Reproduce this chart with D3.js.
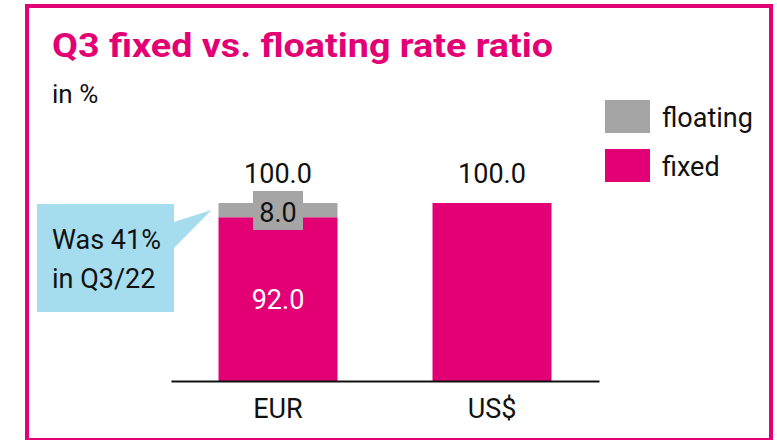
<!DOCTYPE html>
<html>
<head>
<meta charset="utf-8">
<script src="https://cdn.jsdelivr.net/npm/d3@7"></script>
<style>
  body { margin: 0; background: #fff; }
  svg { display: block; font-family: Roboto, "Open Sans", sans-serif; }
</style>
</head>
<body>
<div id="chart"></div>
<script>
// data
const categories = ["EUR", "US$"];
const fixedValues = [92.0, 100.0];
const floatingValues = [8.0, 0.0];
const totalValues = [100.0, 100.0];
const legendLabels = ["floating", "fixed"];
const calloutLines = ["Was 41%", "in Q3/22"];

const magenta = "#e20074",
  grey = "#a5a5a5",
  calloutBlue = "#a5ddee";

const width = 777, height = 440;

const svg = d3.select("#chart")
  .append("svg")
  .attr("width", width)
  .attr("height", height);

// pink frame
svg.append("rect")
  .attr("x", 27).attr("y", 6)
  .attr("width", 744).attr("height", 434)
  .attr("fill", "none")
  .attr("stroke", magenta)
  .attr("stroke-width", 4);

// titles
svg.append("text")
  .attr("x", 52).attr("y", 57)
  .attr("fill", magenta)
  .attr("font-size", 34)
  .attr("font-weight", 700)
  .attr("textLength", 501)
  .attr("lengthAdjust", "spacingAndGlyphs")
  .text("Q3 fixed vs. floating rate ratio");

svg.append("text")
  .attr("x", 52).attr("y", 103)
  .attr("fill", "#111")
  .attr("font-size", 26)
  .text("in %");

// scales
const x = d3.scaleBand()
  .domain(categories)
  .range([171, 599])
  .paddingInner(0.444)
  .paddingOuter(0.222);

const y = d3.scaleLinear()
  .domain([0, 100])
  .range([381, 203]);

const rows = categories.map((c, i) => ({
  cat: c, fixed: fixedValues[i], floating: floatingValues[i], total: totalValues[i]
}));

// bars
const g = svg.append("g");

g.selectAll("rect.fixed")
  .data(rows)
  .join("rect")
  .attr("class", "fixed")
  .attr("x", d => x(d.cat))
  .attr("y", d => y(d.fixed))
  .attr("width", x.bandwidth())
  .attr("height", d => y(0) - y(d.fixed))
  .attr("fill", magenta);

g.selectAll("rect.floating")
  .data(rows.filter(d => d.floating > 0))
  .join("rect")
  .attr("class", "floating")
  .attr("x", d => x(d.cat))
  .attr("y", d => y(d.fixed + d.floating))
  .attr("width", x.bandwidth())
  .attr("height", d => y(d.fixed) - y(d.fixed + d.floating))
  .attr("fill", grey);

// axis baseline
const xAxis = svg.append("g")
  .attr("transform", `translate(0,${y(0)})`)
  .call(d3.axisBottom(x).tickSize(0).tickPadding(18));
xAxis.select(".domain").attr("stroke", "#111").attr("stroke-width", 2);
xAxis.selectAll("text")
  .attr("font-size", 27)
  .attr("fill", "#111")
  .attr("font-family", "Roboto, sans-serif");

// total labels
g.selectAll("text.total")
  .data(rows)
  .join("text")
  .attr("class", "total")
  .attr("x", d => x(d.cat) + x.bandwidth() / 2)
  .attr("y", d => y(d.total) - 20)
  .attr("text-anchor", "middle")
  .attr("font-size", 27)
  .attr("fill", "#111")
  .text(d => d.total.toFixed(1));

// fixed value label inside the EUR bar
g.selectAll("text.fixedlab")
  .data(rows.filter(d => d.floating > 0))
  .join("text")
  .attr("class", "fixedlab")
  .attr("x", d => x(d.cat) + x.bandwidth() / 2)
  .attr("y", d => y(d.fixed / 2) + 10)
  .attr("text-anchor", "middle")
  .attr("font-size", 27)
  .attr("fill", "#fff")
  .text(d => d.fixed.toFixed(1));

// floating value label with grey box
const fl = g.selectAll("g.flab")
  .data(rows.filter(d => d.floating > 0))
  .join("g")
  .attr("class", "flab");
fl.append("rect")
  .attr("x", d => x(d.cat) + x.bandwidth() / 2 - 25)
  .attr("y", 191)
  .attr("width", 50)
  .attr("height", 39)
  .attr("fill", grey);
fl.append("text")
  .attr("x", d => x(d.cat) + x.bandwidth() / 2)
  .attr("y", 222)
  .attr("text-anchor", "middle")
  .attr("font-size", 27)
  .attr("fill", "#111")
  .text(d => d.floating.toFixed(1));

// callout
const eurX = x("EUR");
const callout = svg.append("g");
callout.append("rect")
  .attr("x", 37).attr("y", 204)
  .attr("width", 137).attr("height", 108)
  .attr("fill", calloutBlue);
callout.append("path")
  .attr("d", `M174,222 L${eurX - 7},${y(96)} L174,248 Z`)
  .attr("fill", calloutBlue);
callout.selectAll("text")
  .data(calloutLines)
  .join("text")
  .attr("x", 52)
  .attr("y", (d, i) => 249 + i * 39)
  .attr("font-size", 27)
  .attr("fill", "#111")
  .text(d => d);

// legend
const legend = svg.append("g");
const legendColor = d3.scaleOrdinal().domain(legendLabels).range([grey, magenta]);
const li = legend.selectAll("g")
  .data(legendLabels)
  .join("g")
  .attr("transform", (d, i) => `translate(605,${100 + i * 49})`);
li.append("rect")
  .attr("width", 45).attr("height", 33)
  .attr("fill", d => legendColor(d));
li.append("text")
  .attr("x", 57).attr("y", 27)
  .attr("font-size", 27)
  .attr("fill", "#111")
  .text(d => d);
</script>
</body>
</html>
